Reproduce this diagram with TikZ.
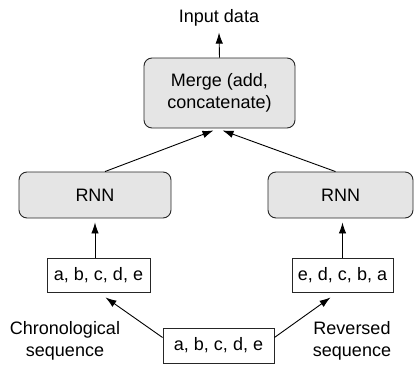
\documentclass[tikz,border=0pt]{standalone}
\usepackage{fontspec}
\setmainfont{Liberation Sans}
\usetikzlibrary{positioning, arrows.meta}

\begin{document}
\begin{tikzpicture}[
    x=1pt, y=-1pt,
    font=\fontsize{18}{22}\selectfont,
    rbox/.style={draw=black!85, rounded corners=8pt, fill=black!10,
      align=center, line width=0.9pt, inner sep=0pt},
    sbox/.style={draw=black!85, line width=0.9pt, inner sep=0pt,
      minimum height=34pt},
    lbl/.style={align=center, inner sep=2pt},
    arr/.style={-{Latex[length=11pt,width=7.5pt]}, line width=0.9pt}
  ]
  \useasboundingbox (0,0) rectangle (414,364);
  % boxes
  \node[rbox, minimum width=151pt, minimum height=70pt] (merge) at (219.5,93)
    {Merge (add,\\concatenate)};
  \node[rbox, minimum width=152pt, minimum height=46pt] (rnnL) at (95,195) {RNN};
  \node[rbox, minimum width=145pt, minimum height=46pt] (rnnR) at (340.5,195) {RNN};
  \node[sbox, minimum width=103pt] (seqL) at (98.5,275) {a, b, c, d, e};
  \node[sbox, minimum width=101pt] (seqR) at (342.5,275) {e, d, c, b, a};
  \node[sbox, minimum width=111pt, minimum height=35pt] (src) at (218.5,345.5)
    {a, b, c, d, e};
  % labels
  \node[lbl] (input) at (219,18) {Input data};
  \node[lbl] (chrono) at (65,341) {Chronological\\sequence};
  \node[lbl] (rev) at (352,341) {Reversed\\sequence};
  % arrows
  \draw[arr] (merge.north) -- ([yshift=-4pt]input.south);
  \draw[arr] ([xshift=10pt]rnnL.north) -- ([xshift=-6pt,yshift=-2pt]merge.south);
  \draw[arr] ([xshift=-5pt]rnnR.north) -- ([xshift=3pt,yshift=-2pt]merge.south);
  \draw[arr] (seqL.north -| rnnL.south) -- ([yshift=-4pt]rnnL.south);
  \draw[arr] (seqR.north) -- ([yshift=-4pt]seqR.north |- rnnR.south);
  \draw[arr] ([yshift=8pt]src.west) -- ([xshift=7pt,yshift=-5pt]seqL.south);
  \draw[arr] ([yshift=8pt]src.east) -- ([xshift=-12pt,yshift=-5pt]seqR.south);
\end{tikzpicture}
\end{document}
